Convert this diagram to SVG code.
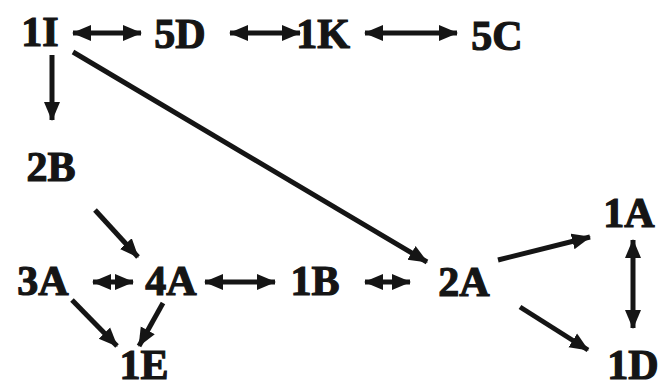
<svg xmlns="http://www.w3.org/2000/svg" width="661" height="389" viewBox="0 0 661 389">
<defs>
<style>
.lbl{font-family:"Liberation Serif","DejaVu Serif",serif;font-weight:bold;font-size:42px;fill:#151515;stroke:#151515;stroke-width:1.2;text-anchor:middle}
.c line{stroke:#151515;stroke-width:5;fill:none}
.one{marker-end:url(#ah)}
.two{marker-start:url(#ah);marker-end:url(#ah)}
</style>
<marker id="ah" markerUnits="userSpaceOnUse" markerWidth="20" markerHeight="18" refX="18" refY="8" orient="auto-start-reverse" viewBox="0 0 20 16">
<path d="M0,0 L19,8 L0,16 z" fill="#151515"/>
</marker>
</defs>
<rect width="661" height="389" fill="#ffffff"/>
<g class="c" id="connectors">
<line class="two" x1="73" y1="33" x2="141" y2="33"/>
<line class="two" x1="230" y1="33" x2="300" y2="33"/>
<line class="two" x1="365" y1="33" x2="457" y2="33"/>
<line class="one" x1="52" y1="55" x2="52" y2="120"/>
<line class="one" x1="73" y1="52" x2="427" y2="262"/>
<line class="one" x1="95" y1="210" x2="138" y2="257"/>
<line class="two" x1="93" y1="282" x2="133" y2="282"/>
<line class="two" x1="205" y1="282" x2="275" y2="282"/>
<line class="two" x1="365" y1="282" x2="410" y2="282"/>
<line class="one" x1="498" y1="260" x2="590" y2="237"/>
<line class="two" x1="633" y1="240" x2="633" y2="328"/>
<line class="one" x1="520" y1="307" x2="588" y2="350"/>
<line class="one" x1="72" y1="300" x2="117" y2="346"/>
<line class="one" x1="163" y1="303" x2="139" y2="346"/>
</g>
<g id="n1I"><text class="lbl" x="40" y="46">1I</text></g>
<g id="n5D"><text class="lbl" x="180" y="48">5D</text></g>
<g id="n1K"><text class="lbl" x="323" y="48">1K</text></g>
<g id="n5C"><text class="lbl" x="497" y="50">5C</text></g>
<g id="n2B"><text class="lbl" x="51" y="181">2B</text></g>
<g id="n3A"><text class="lbl" x="43" y="295">3A</text></g>
<g id="n4A"><text class="lbl" x="171" y="295">4A</text></g>
<g id="n1B"><text class="lbl" x="315" y="295">1B</text></g>
<g id="n2A"><text class="lbl" x="464" y="296">2A</text></g>
<g id="n1A"><text class="lbl" x="629" y="227">1A</text></g>
<g id="n1E"><text class="lbl" x="144" y="379">1E</text></g>
<g id="n1D"><text class="lbl" x="633" y="379">1D</text></g>
</svg>
